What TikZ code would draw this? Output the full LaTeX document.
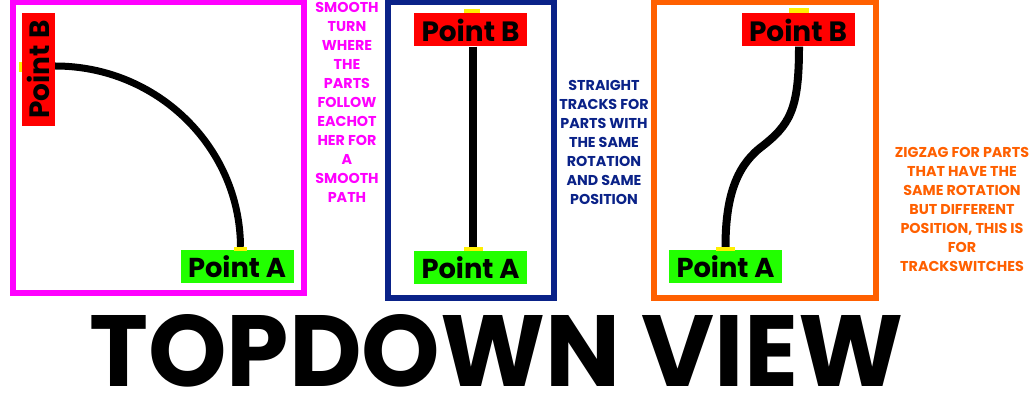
\documentclass[tikz,border=0pt]{standalone}
\usepackage{fontspec}
\setmainfont{Poppins}
\definecolor{mag}{HTML}{FF00FF}
\definecolor{navy}{HTML}{0A2288}
\definecolor{orng}{HTML}{FF6000}
\definecolor{grn}{HTML}{22FF00}
\definecolor{rd}{HTML}{FF0000}
\definecolor{ylw}{HTML}{FFF000}
\tikzset{
  frame/.style={line width=6pt},
  track/.style={line width=7pt, black},
  ptlabel/.style={inner sep=0pt, minimum width=113pt, minimum height=33pt, font=\bfseries\fontsize{28}{28}\selectfont, text=black},
  ptA/.style={ptlabel, fill=grn},
  ptB/.style={ptlabel, fill=rd},
  ymark/.style={fill=ylw, inner sep=0pt},
  note/.style={align=center, inner sep=0pt, font=\bfseries\fontsize{14.3}{19}\selectfont}
}
\begin{document}
\begin{tikzpicture}[x=1pt,y=-1pt]
\useasboundingbox (0,0) rectangle (1035,411);
\fill[white] (0,0) rectangle (1035,411);
% frames
\draw[frame, mag] (12.5,2.5) rectangle (304,293.5);
\draw[frame, navy] (388,2.5) rectangle (554,298);
\draw[frame, orng] (654,2.5) rectangle (875.5,298);

% panel 1
\node[ptB, rotate=90] (B1) at (38.5,69.5) {\resizebox{98pt}{!}{Point B}};
\node[ptA] (A1) at (237,267) {\resizebox{98pt}{!}{Point A}};
\node[ymark, minimum width=3pt, minimum height=10pt] (yB1) at (20.5,67) {};
\node[ymark, minimum width=13pt, minimum height=4pt] (yA1) at (240.5,249) {};
\draw[track] (B1.south |- 0,66) .. controls (157,66) and (240,147) .. (yA1.north);

% panel 2
\node[ptB] (B2) at (470.5,30) {\resizebox{98pt}{!}{Point B}};
\node[ptA] (A2) at (470.5,267.5) {\resizebox{98pt}{!}{Point A}};
\node[ymark, minimum width=16pt, minimum height=4pt] (yB2) at (472,11) {};
\node[ymark, minimum width=19pt, minimum height=4pt] (yA2) at (473,249) {};
\draw[track, line width=8pt] (B2.south -| yA2) -- (yA2.north);

% panel 3
\node[ptB] (B3) at (798,30) {\resizebox{98pt}{!}{Point B}};
\node[ptA] (A3) at (725.5,267) {\resizebox{98pt}{!}{Point A}};
\node[ymark, minimum width=20pt, minimum height=5pt] (yB3) at (799,10.5) {};
\node[ymark, minimum width=19pt, minimum height=4pt] (yA3) at (725.5,249) {};
\draw[track, line width=8pt] (B3.south -| 799,0) .. controls (799,110) and (790,125) .. (760,148)
  .. controls (735,168) and (725.5,200) .. (yA3.north);

% notes
\node[note, text=mag, anchor=north] (n1) at (347,2) {SMOOTH\\TURN\\WHERE\\THE\\PARTS\\FOLLOW\\EACHOT\\HER FOR\\A\\SMOOTH\\PATH};
\node[note, text=navy, anchor=north] (n2) at (604,80) {STRAIGHT\\TRACKS FOR\\PARTS WITH\\THE SAME\\ROTATION\\AND SAME\\POSITION};
\node[note, text=orng, anchor=north] (n3) at (962,147) {ZIGZAG FOR PARTS\\THAT HAVE THE\\SAME ROTATION\\BUT DIFFERENT\\POSITION, THIS IS\\FOR\\TRACKSWITCHES};

% title
\node[inner sep=0pt, anchor=north west] (title) at (89,314) {\resizebox{814pt}{72pt}{\bfseries TOPDOWN VIEW}};
\end{tikzpicture}
\end{document}
